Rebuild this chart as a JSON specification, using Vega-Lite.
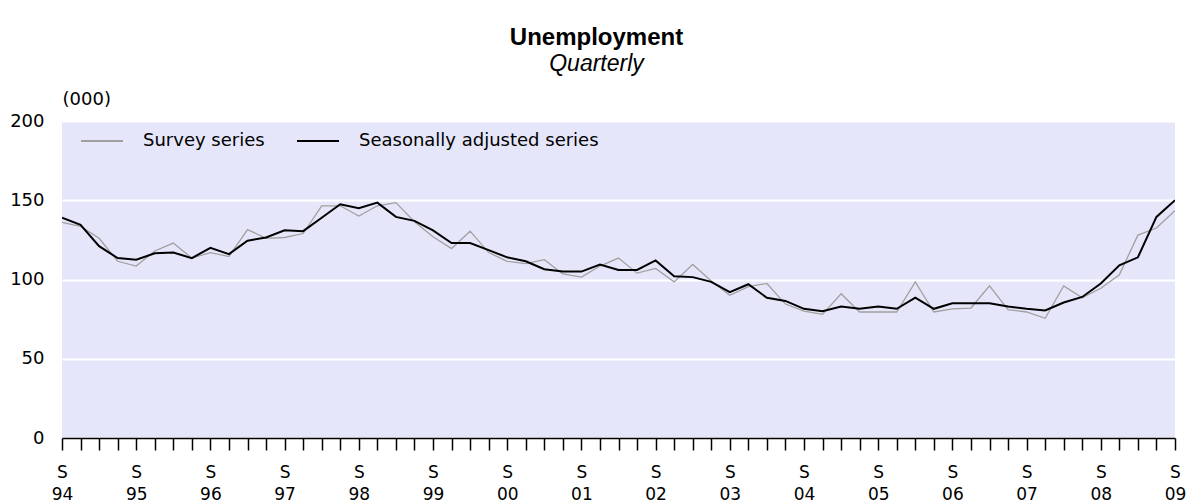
{
  "$schema": "https://vega.github.io/schema/vega-lite/v6.json",
  "width": 1113,
  "height": 317,
  "autosize": "none",
  "padding": {"left": 62, "top": 121, "right": 15, "bottom": 66},
  "background": "white",
  "title": {
    "text": "Unemployment",
    "subtitle": "Quarterly",
    "anchor": "middle",
    "dx": -22,
    "offset": 14,
    "font": "Liberation Sans",
    "fontSize": 24,
    "fontWeight": "bold",
    "color": "#000000",
    "subtitleFont": "Liberation Sans",
    "subtitleFontSize": 23,
    "subtitleFontStyle": "italic",
    "subtitleColor": "#000000",
    "subtitlePadding": 3
  },
  "data": {
    "values": [
      {"q": "1994-09", "survey": 136, "sa": 139},
      {"q": "1994-12", "survey": 133.5, "sa": 134.5},
      {"q": "1995-03", "survey": 126, "sa": 121},
      {"q": "1995-06", "survey": 111.5, "sa": 113.5},
      {"q": "1995-09", "survey": 108.5, "sa": 112.5},
      {"q": "1995-12", "survey": 118, "sa": 116.5},
      {"q": "1996-03", "survey": 123, "sa": 117},
      {"q": "1996-06", "survey": 113.5, "sa": 113.5},
      {"q": "1996-09", "survey": 117, "sa": 120},
      {"q": "1996-12", "survey": 114.5, "sa": 116},
      {"q": "1997-03", "survey": 131.5, "sa": 124.5},
      {"q": "1997-06", "survey": 126, "sa": 126.5},
      {"q": "1997-09", "survey": 126.5, "sa": 131},
      {"q": "1997-12", "survey": 129, "sa": 130.5},
      {"q": "1998-03", "survey": 146.5, "sa": 139},
      {"q": "1998-06", "survey": 146.5, "sa": 147.5},
      {"q": "1998-09", "survey": 140, "sa": 145},
      {"q": "1998-12", "survey": 146.5, "sa": 148.5},
      {"q": "1999-03", "survey": 148.5, "sa": 139.5},
      {"q": "1999-06", "survey": 136.5, "sa": 137},
      {"q": "1999-09", "survey": 127, "sa": 131},
      {"q": "1999-12", "survey": 119.5, "sa": 123},
      {"q": "2000-03", "survey": 130.5, "sa": 123},
      {"q": "2000-06", "survey": 117, "sa": 118.5},
      {"q": "2000-09", "survey": 111.5, "sa": 114},
      {"q": "2000-12", "survey": 110, "sa": 111.5},
      {"q": "2001-03", "survey": 112.5, "sa": 106.5},
      {"q": "2001-06", "survey": 103.5, "sa": 105},
      {"q": "2001-09", "survey": 101.5, "sa": 105},
      {"q": "2001-12", "survey": 108.5, "sa": 109.5},
      {"q": "2002-03", "survey": 113.5, "sa": 106},
      {"q": "2002-06", "survey": 104, "sa": 106},
      {"q": "2002-09", "survey": 107, "sa": 112},
      {"q": "2002-12", "survey": 98.5, "sa": 102},
      {"q": "2003-03", "survey": 109.5, "sa": 101.5},
      {"q": "2003-06", "survey": 99, "sa": 98.5},
      {"q": "2003-09", "survey": 90, "sa": 92},
      {"q": "2003-12", "survey": 95.5, "sa": 97},
      {"q": "2004-03", "survey": 97.5, "sa": 88.5},
      {"q": "2004-06", "survey": 84.5, "sa": 86.5},
      {"q": "2004-09", "survey": 80, "sa": 81.5},
      {"q": "2004-12", "survey": 78, "sa": 80},
      {"q": "2005-03", "survey": 91, "sa": 83},
      {"q": "2005-06", "survey": 79.5, "sa": 81.5},
      {"q": "2005-09", "survey": 79.5, "sa": 83},
      {"q": "2005-12", "survey": 79.5, "sa": 81.5},
      {"q": "2006-03", "survey": 98.5, "sa": 88.5},
      {"q": "2006-06", "survey": 79.5, "sa": 81.5},
      {"q": "2006-09", "survey": 81.5, "sa": 85},
      {"q": "2006-12", "survey": 82, "sa": 85},
      {"q": "2007-03", "survey": 96, "sa": 85},
      {"q": "2007-06", "survey": 81, "sa": 83},
      {"q": "2007-09", "survey": 79.5, "sa": 81.5},
      {"q": "2007-12", "survey": 75.5, "sa": 80.5},
      {"q": "2008-03", "survey": 96, "sa": 85.5},
      {"q": "2008-06", "survey": 88.5, "sa": 89},
      {"q": "2008-09", "survey": 94.5, "sa": 97.5},
      {"q": "2008-12", "survey": 103, "sa": 109},
      {"q": "2009-03", "survey": 128, "sa": 114},
      {"q": "2009-06", "survey": 132.5, "sa": 139.5},
      {"q": "2009-09", "survey": 143.5, "sa": 150}
    ]
  },
  "encoding": {
    "x": {
      "field": "q",
      "type": "ordinal",
      "sort": null,
      "scale": {"type": "point", "padding": 0},
      "axis": {
        "title": null,
        "labelAngle": 0,
        "labelOverlap": false,
        "labelExpr": "slice(datum.value, 5) == '09' ? ['S', slice(datum.value, 2, 4)] : ''",
        "labelFont": "DejaVu Sans",
        "labelFontSize": 17,
        "labelLineHeight": 22,
        "labelColor": "#000000",
        "labelPadding": 14,
        "labelBaseline": "top",
        "tickSize": 12,
        "tickColor": "#000000",
        "tickWidth": 1.5,
        "domainColor": "#000000",
        "domainWidth": 1.5,
        "grid": false
      }
    }
  },
  "layer": [
    {
      "mark": {"type": "line", "strokeWidth": 1.3, "clip": true},
      "encoding": {
        "y": {
          "field": "survey",
          "type": "quantitative",
          "scale": {"domain": [0, 200], "nice": false},
          "axis": {
            "values": [0, 50, 100, 150, 200],
            "title": "(000)",
            "titleAngle": 0,
            "titleX": 0,
            "titleY": -22,
            "titleAlign": "left",
            "titleBaseline": "middle",
            "titleFont": "DejaVu Sans",
            "titleFontSize": 18,
            "titleFontWeight": "normal",
            "titleColor": "#000000",
            "labelFont": "DejaVu Sans",
            "labelFontSize": 18,
            "labelColor": "#000000",
            "labelPadding": 18,
            "tickSize": 0,
            "ticks": false,
            "domain": false,
            "grid": true,
            "gridColor": "#FFFFFF",
            "gridWidth": 2
          }
        },
        "color": {
          "datum": "Survey series",
          "type": "nominal",
          "scale": {
            "domain": ["Survey series", "Seasonally adjusted series"],
            "range": ["#A0A0A0", "#000000"]
          },
          "legend": {
            "title": null,
            "orient": "none",
            "legendX": 18,
            "legendY": -2,
            "direction": "horizontal",
            "symbolType": "stroke",
            "symbolSize": 1764,
            "symbolStrokeWidth": 1.8,
            "labelFont": "DejaVu Sans",
            "labelFontSize": 18,
            "labelLimit": 0,
            "labelColor": "#000000",
            "labelOffset": 19,
            "columnPadding": 28,
            "padding": 0
          }
        }
      }
    },
    {
      "mark": {"type": "line", "strokeWidth": 2, "clip": true},
      "encoding": {
        "y": {"field": "sa", "type": "quantitative"},
        "color": {"datum": "Seasonally adjusted series", "type": "nominal"}
      }
    }
  ],
  "config": {
    "view": {"fill": "#E6E6FA", "stroke": null},
    "axis": {"labelFont": "DejaVu Sans"}
  }
}
